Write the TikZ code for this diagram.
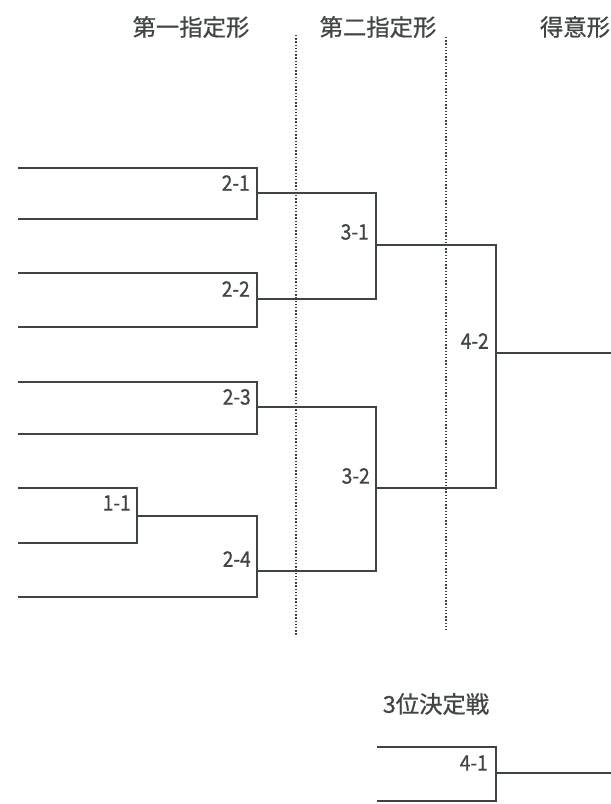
\documentclass[tikz,border=0pt]{standalone}
\usepackage{fontspec}
\newfontfamily\jp[FakeBold=0.8]{Noto Sans CJK JP}
\newfontfamily\jpn[FakeBold=0.8,FakeStretch=0.9]{Noto Sans CJK JP}
\definecolor{ink}{HTML}{3C4444}
\definecolor{txt}{HTML}{404545}
\begin{document}
\begin{tikzpicture}[x=0.75pt,y=-0.75pt,
  wire/.style={draw=ink,line width=2pt},
  guide/.style={draw=ink,line width=1.8pt,dash pattern=on 1.1pt off 1.3pt},
  lbl/.style={anchor=east,text=txt,font=\jpn\fontsize{16}{17}\selectfont,inner sep=0pt},
  ttl/.style={text=txt,font=\jp\fontsize{17.5}{18}\selectfont,inner sep=0pt}]
\useasboundingbox (0,0) rectangle (611,804);
% titles
\node[ttl] (t1) at (191,27) {第一指定形};
\node[ttl] (t2) at (378,27) {第二指定形};
\node[ttl] (t3) at (575,27) {得意形};
\node[ttl] (t4) at (436,704) {3位決定戦};
% guides
\coordinate (g1t) at (296,35); \coordinate (g1b) at (296,635);
\coordinate (g2t) at (446,37); \coordinate (g2b) at (446,630);
\draw[guide] (g1t) -- (g1b);
\draw[guide] (g2t) -- (g2b);
% entrants
\coordinate (e1) at (18,168); \coordinate (e2) at (18,219);
\coordinate (e3) at (18,273); \coordinate (e4) at (18,327);
\coordinate (e5) at (18,382); \coordinate (e6) at (18,434);
\coordinate (e7) at (18,488); \coordinate (e8) at (18,543);
\coordinate (e9) at (18,597);
\coordinate (f1) at (377,747); \coordinate (f2) at (377,801);
% junctions
\coordinate (j21) at (257,193);
\coordinate (j22) at (257,299);
\coordinate (j23) at (257,407);
\coordinate (j11) at (137,516);
\coordinate (j24) at (257,571);
\coordinate (j31) at (376,245);
\coordinate (j32) at (376,488);
\coordinate (j42) at (496,353);
\coordinate (j41) at (496,773);
\coordinate (o1) at (611,353);
\coordinate (o2) at (611,773);
% brackets
\draw[wire] (e1) -| (j21) |- (e2);
\draw[wire] (e3) -| (j22) |- (e4);
\draw[wire] (e5) -| (j23) |- (e6);
\draw[wire] (e7) -| (j11) |- (e8);
\draw[wire] (j11) -| (j24) |- (e9);
\draw[wire] (j21) -| (j31) |- (j22);
\draw[wire] (j23) -| (j32) |- (j24);
\draw[wire] (j31) -| (j42) |- (j32);
\draw[wire] (j42) -- (o1);
\draw[wire] (f1) -| (j41) |- (f2);
\draw[wire] (j41) -- (o2);
% labels
\node[lbl] (l21) at (250,183) {2-1};
\node[lbl] (l22) at (250,289) {2-2};
\node[lbl] (l31) at (369,232) {3-1};
\node[lbl] (l42) at (489,341) {4-2};
\node[lbl] (l23) at (251,397) {2-3};
\node[lbl] (l11) at (131,503) {1-1};
\node[lbl] (l24) at (251,559) {2-4};
\node[lbl] (l32) at (370,476) {3-2};
\node[lbl] (l41) at (488,763) {4-1};
\end{tikzpicture}
\end{document}
